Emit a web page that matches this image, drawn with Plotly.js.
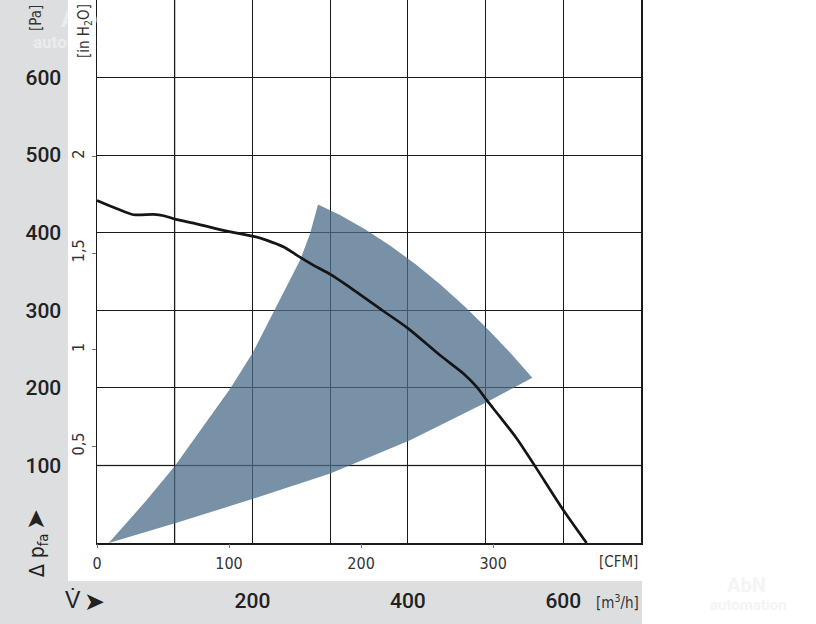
<!DOCTYPE html>
<html>
<head>
<meta charset="utf-8">
<script src="https://cdn.plot.ly/plotly-3.0.1.min.js"></script>
<style>html,body{margin:0;padding:0;background:#fff;}#chart{width:816px;height:624px;}</style>
</head>
<body>
<div id="chart"></div>
<script>
// ---- Data ----
// Fan characteristic curve: flow [m³/h] vs static pressure [Pa]
const curveFlow = [0, 25.7, 47.2, 73, 85.8, 102.9, 124.4, 150.2, 180.2, 201.6, 218.8, 240.3, 257.4, 278.8, 300.2, 321.7, 368.4, 400.6, 441.4, 471.4, 488.6, 501.5, 518.6, 540.1, 563.6, 600, 630];
const curvePressure = [441.6, 430.9, 423.2, 423.6, 421.9, 416.8, 412.4, 406, 399.5, 395.3, 390.1, 381.5, 370.8, 357.9, 346.3, 332.2, 299.1, 276.4, 242, 218.5, 201.2, 184.1, 162.6, 134.8, 99.1, 42.5, 0];

// Recommended operating zone (shaded), outline in three edges
const zoneLeftFlow = [15.1, 64.0, 100.4, 171.5, 199.8, 235.1, 261.2, 274.1, 284.4];
const zoneLeftPressure = [0, 55.4, 99.5, 199.2, 244.2, 312.9, 364.4, 398.7, 436.5];
const zoneUpperFlow = [312.7, 344.9, 377.0, 409.2, 441.4, 473.6, 505.7, 534.0, 560.2];
const zoneUpperPressure = [422.7, 404.4, 383.5, 359.9, 333.6, 304.5, 272.8, 242.7, 213.0];
const zoneLowerFlow = [501.2, 402.8, 300.2, 199.8, 100.4, 15.1];
const zoneLowerPressure = [181.5, 132.6, 89.7, 56.6, 25.4, 0];

// Tick labels
const flowTicks = [200, 400, 600];
const flowTickText = ['200', '400', '600'];
const flowGridStep = 100;
const paTicks = [100, 200, 300, 400, 500, 600];
const paTickText = ['100', '200', '300', '400', '500', '600'];
const inH2OTicks = [0.5, 1, 1.5, 2];
const inH2OTickText = ['0,5', '1', '1,5', '2'];
const cfmTicks = [0, 100, 200, 300];
const cfmTickText = ['0', '100', '200', '300'];

// ---- Layout helpers ----
const W = 816, H = 624;
const L = 97, R = 641, T = 0, B = 543;
const px = x => (x - L) / (R - L);
const py = y => (B - y) / (B - T);
const FLOW_MAX = 700, PA_MAX = 700;
const M3H_PER_CFM = 1.699, PA_PER_INH2O = 249.09;

const narrow = 'Liberation Sans Narrow, DejaVu Sans Condensed, Arial Narrow, sans-serif';
const big = 'Roboto, Liberation Sans, Arial, sans-serif';
const band = '#dddee0';
const gridCol = '#1a1a1a';

const zoneX = zoneLeftFlow.concat(zoneUpperFlow, zoneLowerFlow);
const zoneY = zoneLeftPressure.concat(zoneUpperPressure, zoneLowerPressure);

const traces = [
  {x: zoneX, y: zoneY, type: 'scatter', mode: 'lines', fill: 'toself',
   fillcolor: 'rgba(75,108,138,0.75)', line: {width: 0}, hoverinfo: 'skip', showlegend: false},
  {x: curveFlow, y: curvePressure, type: 'scatter', mode: 'lines',
   line: {color: '#151515', width: 2.7, shape: 'spline', smoothing: 0.8}, showlegend: false},
  // same curve in CFM / in H2O units (transparent) so the secondary scales are drawn
  {x: curveFlow.map(v => v / M3H_PER_CFM), y: curvePressure.map(v => v / PA_PER_INH2O),
   xaxis: 'x2', yaxis: 'y2', type: 'scatter', mode: 'lines',
   line: {color: 'rgba(0,0,0,0)', width: 0}, hoverinfo: 'skip', showlegend: false}
];

const ann = (x, y, text, opts) => Object.assign({
  xref: 'paper', yref: 'paper', x: px(x), y: py(y), text: text, showarrow: false,
  xanchor: 'center', yanchor: 'middle', font: {family: narrow, size: 15, color: '#333'}
}, opts || {});

const layout = {
  width: W, height: H,
  margin: {l: L, r: W - R, t: T, b: H - B, pad: 0},
  paper_bgcolor: '#ffffff', plot_bgcolor: 'rgba(0,0,0,0)',
  showlegend: false,
  xaxis: {
    range: [0, FLOW_MAX], tickvals: flowTicks, ticktext: flowTickText,
    showgrid: true, gridcolor: gridCol, gridwidth: 1,
    minor: {tick0: 0, dtick: flowGridStep, showgrid: true, gridcolor: gridCol, gridwidth: 1, ticks: ''},
    showline: true, linecolor: gridCol, linewidth: 1.5, mirror: true,
    ticks: '', zeroline: false, fixedrange: true,
    ticklabelstandoff: 38,
    tickfont: {family: big, size: 21, color: '#222', weight: 500}
  },
  xaxis2: {
    overlaying: 'x', anchor: 'y', side: 'bottom',
    range: [0, FLOW_MAX / M3H_PER_CFM], tickvals: cfmTicks, ticktext: cfmTickText,
    showgrid: false, zeroline: false, showline: false,
    ticks: 'outside', ticklen: 4, tickcolor: '#777', tickwidth: 1,
    ticklabelstandoff: 2,
    tickfont: {family: narrow, size: 16, color: '#333'}
  },
  yaxis: {
    range: [0, PA_MAX], tickvals: paTicks, ticktext: paTickText,
    showgrid: true, gridcolor: gridCol, gridwidth: 1,
    showline: true, linecolor: gridCol, linewidth: 1.5, mirror: true,
    ticks: '', zeroline: false, fixedrange: true,
    ticklabelstandoff: 30,
    tickfont: {family: big, size: 21, color: '#222', weight: 500}
  },
  yaxis2: {
    overlaying: 'y', anchor: 'x', side: 'left',
    range: [0, PA_MAX / PA_PER_INH2O], tickvals: inH2OTicks, ticktext: inH2OTickText,
    showgrid: false, zeroline: false, showline: false,
    ticks: 'outside', ticklen: 4, tickcolor: '#777', tickwidth: 1,
    tickangle: -90, ticklabelstandoff: 2,
    tickfont: {family: narrow, size: 16, color: '#333'}
  },
  shapes: [
    // grey side band and bottom band
    {type: 'rect', xref: 'paper', yref: 'paper', x0: px(0), x1: px(68), y0: py(581), y1: py(0),
     fillcolor: band, line: {width: 0}, layer: 'below'},
    {type: 'rect', xref: 'paper', yref: 'paper', x0: px(0), x1: px(642), y0: py(624), y1: py(581),
     fillcolor: band, line: {width: 0}, layer: 'below'},
    // lighter grid lines at 100 m³/h and 100 Pa
    {type: 'line', xref: 'x', yref: 'paper', x0: 100, x1: 100, y0: 0, y1: 1,
     line: {color: '#8a8a8a', width: 1.6}, layer: 'between'},
    {type: 'line', xref: 'paper', yref: 'y', x0: 0, x1: 1, y0: 100, y1: 100,
     line: {color: '#8a8a8a', width: 1.6}, layer: 'between'}
  ],
  annotations: [
    // faint watermarks
    ann(82, 19, 'AbN', {font: {family: big, size: 22, color: 'rgba(255,255,255,0.45)', weight: 'bold'}}),
    ann(76, 42, 'automation', {font: {family: big, size: 17, color: 'rgba(255,255,255,0.45)', weight: 'bold'}}),
    ann(746, 585, 'AbN', {font: {family: big, size: 20, color: '#f4f4f4', weight: 'bold'}}),
    ann(748, 605, 'automation', {font: {family: big, size: 15, color: '#f4f4f4', weight: 'bold'}}),
    // unit labels
    ann(36, 18, '[Pa]', {textangle: -90}),
    ann(85, 31, '[in H<sub>2</sub>O]', {textangle: -90}),
    ann(35, 520, '➤', {textangle: -90, font: {family: 'DejaVu Sans, sans-serif', size: 25, color: '#222'}}),
    ann(38, 556, '∆ p<sub>fa</sub>', {textangle: -90, font: {family: narrow, size: 21, color: '#222'}}),
    ann(73, 600, 'V̇', {font: {family: big, size: 23, color: '#222', weight: 500}}),
    ann(94, 601, '➤', {font: {family: 'DejaVu Sans, sans-serif', size: 25, color: '#222'}}),
    ann(618, 562, '[CFM]'),
    ann(617, 602, '[m<sup>3</sup>/h]')
  ]
};

Plotly.newPlot('chart', traces, layout, {staticPlot: true, displayModeBar: false});
</script>
</body>
</html>
